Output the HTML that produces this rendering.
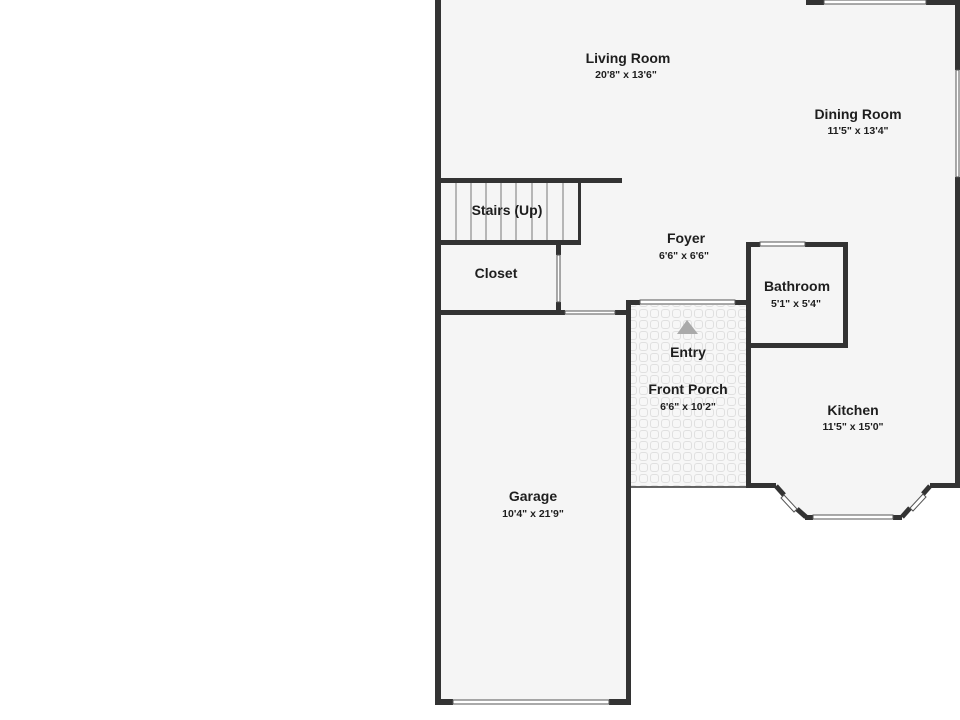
<!DOCTYPE html>
<html><head><meta charset="utf-8"><style>
html,body{margin:0;padding:0;background:#fff;width:960px;height:720px;overflow:hidden}
svg{display:block}
text{font-family:"Liberation Sans","DejaVu Sans",sans-serif;fill:#1e1e1e;text-anchor:middle;font-weight:bold}
.n{font-size:14px}
.d{font-size:10.5px}
</style></head><body>
<svg width="960" height="720" viewBox="0 0 960 720">
<defs>
<pattern id="tile" width="11" height="11" patternUnits="userSpaceOnUse">
<rect width="11" height="11" fill="#f7f7f7"/>
<rect x="1.5" y="1.5" width="8" height="8" rx="2.5" fill="none" stroke="#e0e0e0" stroke-width="1"/>
</pattern>
</defs>
<polygon fill="#f5f5f5" points="438,0 958,0 958,486 930,486 902,517 805,517 776,486 749,486 749,305 631,305 631,702 438,702"/>
<rect x="631" y="305" width="117" height="182" fill="url(#tile)"/>
<line x1="631" y1="487" x2="749" y2="487" stroke="#333" stroke-width="1.5"/>
<g fill="#333">
<rect x="435" y="0" width="6" height="705"/>
<rect x="435" y="699" width="18" height="6"/>
<rect x="609" y="699" width="22" height="6"/>
<rect x="626" y="300" width="5" height="405"/>
<rect x="626" y="300" width="14" height="5"/>
<rect x="735" y="300" width="16" height="5"/>
<rect x="441" y="178" width="181" height="5"/>
<rect x="441" y="240" width="140" height="5"/>
<rect x="441" y="310" width="124" height="5"/>
<rect x="556" y="245" width="5" height="10"/>
<rect x="556" y="302" width="5" height="10"/>
<rect x="615" y="310" width="11" height="5"/>
<rect x="746" y="242" width="5" height="246"/>
<rect x="746" y="242" width="14" height="5"/>
<rect x="805" y="242" width="43" height="5"/>
<rect x="843" y="242" width="5" height="106"/>
<rect x="751" y="343" width="97" height="5"/>
<rect x="749" y="483" width="27" height="5"/>
<rect x="930" y="483" width="30" height="5"/>
<rect x="805" y="515" width="8" height="5"/>
<rect x="893" y="515" width="9" height="5"/>
<rect x="955" y="0" width="5" height="70"/>
<rect x="955" y="177" width="5" height="310"/>
<rect x="806" y="0" width="18" height="5"/>
<rect x="926" y="0" width="30" height="5"/>
</g>
<g stroke="#333" stroke-width="5" fill="none">
<line x1="776" y1="486" x2="784" y2="495"/>
<line x1="797" y1="509" x2="806" y2="517"/>
<line x1="930" y1="486" x2="923" y2="494"/>
<line x1="910" y1="508" x2="902" y2="517"/>
</g>
<g stroke="#555" stroke-width="1" fill="#fff">
<rect x="813" y="515" width="80" height="4"/>
<rect x="956" y="70" width="3" height="107"/>
<rect x="824" y="0" width="102" height="4"/>
<rect x="453" y="700" width="156" height="4"/>
<rect x="640" y="300" width="95" height="4"/>
<rect x="760" y="242" width="45" height="4"/>
<rect x="565" y="311" width="50" height="3"/>
<rect x="557" y="255" width="3" height="47"/>
<polygon points="784,495 797,509 794,512 781,498"/>
<polygon points="923,494 910,508 913,511 926,497"/>
</g>
<g stroke="#777" stroke-width="1">
<line x1="456" y1="183" x2="456" y2="240"/><line x1="471" y1="183" x2="471" y2="240"/>
<line x1="486" y1="183" x2="486" y2="240"/><line x1="501" y1="183" x2="501" y2="240"/>
<line x1="516" y1="183" x2="516" y2="240"/><line x1="532" y1="183" x2="532" y2="240"/>
<line x1="547" y1="183" x2="547" y2="240"/><line x1="563" y1="183" x2="563" y2="240"/>
</g>
<rect x="578" y="183" width="3" height="57" fill="#333"/>
<polygon points="687,320 677,334 698,334" fill="#aaa"/>
<text class="n" x="628" y="63">Living Room</text><text class="d" x="626" y="78">20'8" x 13'6"</text>
<text class="n" x="858" y="119">Dining Room</text><text class="d" x="858" y="134">11'5" x 13'4"</text>
<text class="n" x="507" y="215">Stairs (Up)</text>
<text class="n" x="686" y="243">Foyer</text><text class="d" x="684" y="259">6'6" x 6'6"</text>
<text class="n" x="496" y="278">Closet</text>
<text class="n" x="797" y="291">Bathroom</text><text class="d" x="796" y="307">5'1" x 5'4"</text>
<text class="n" x="688" y="357">Entry</text>
<text class="n" x="688" y="394">Front Porch</text><text class="d" x="688" y="410">6'6" x 10'2"</text>
<text class="n" x="853" y="415">Kitchen</text><text class="d" x="853" y="430">11'5" x 15'0"</text>
<text class="n" x="533" y="501">Garage</text><text class="d" x="533" y="517">10'4" x 21'9"</text>
</svg>
</body></html>
